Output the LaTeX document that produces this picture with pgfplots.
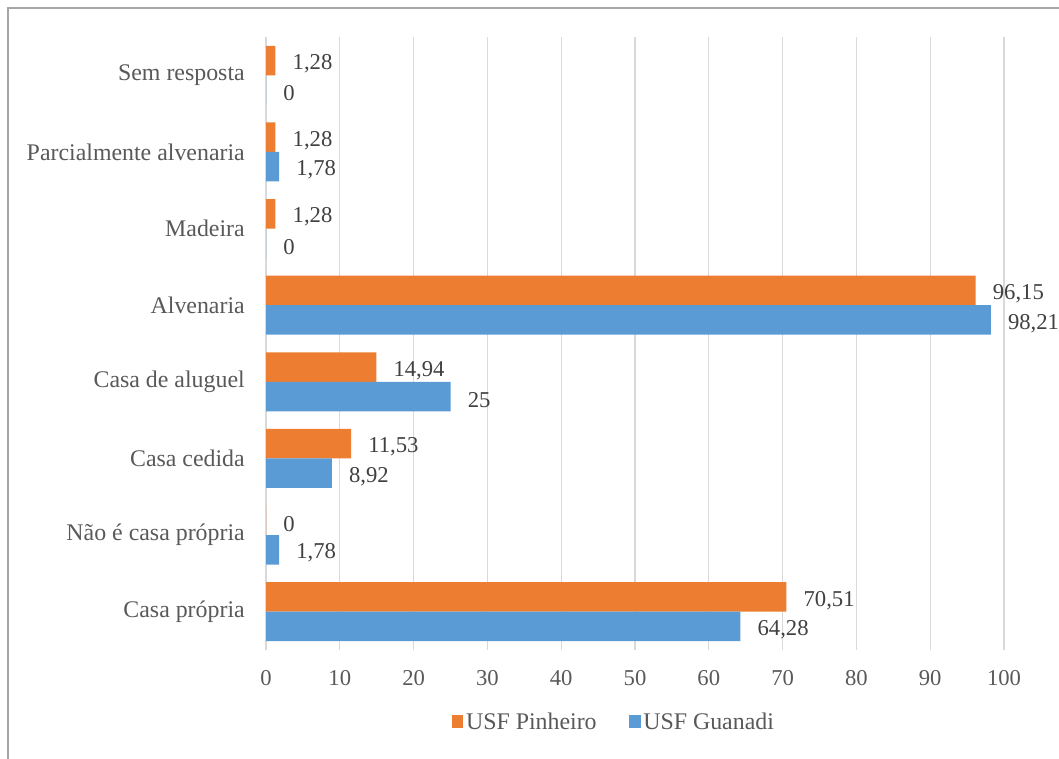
\documentclass[border=0pt]{standalone}
\usepackage{pgfplots}
\pgfplotsset{compat=1.18}
\usepackage{pgfplotstable}
\usepackage{fontspec}
\setmainfont{Liberation Serif}
\definecolor{cOrange}{HTML}{ED7D31}
\definecolor{cBlue}{HTML}{5B9BD5}
\definecolor{cTick}{HTML}{595959}
\definecolor{cLab}{HTML}{404040}
\definecolor{cGrid}{HTML}{D9D9D9}
\definecolor{cFrame}{HTML}{A6A6A6}
\pgfplotstableread{
y P Plab G Glab
0 70.51 70,51 64.28 64,28
1 0 0 1.78 1,78
2 11.53 11,53 8.92 8,92
3 14.94 14,94 25 25
4 96.15 96,15 98.21 98,21
5 1.28 1,28 0 0
6 1.28 1,28 1.78 1,78
7 1.28 1,28 0 0
}\datatable
\begin{document}
\begin{tikzpicture}
\useasboundingbox (0,0) rectangle (794.25pt,-568.5pt);
\draw[cFrame, line width=1.1pt] (6pt,-580pt) -- (6pt,-6pt) -- (800pt,-6pt);
\begin{axis}[
  at={(199.5pt,-487.5pt)}, anchor=south west,
  scale only axis,
  width=553.5pt, height=459.75pt,
  xmin=0, xmax=100, ymin=-0.5, ymax=7.5,
  xtick={0,10,...,100},
  ytick={0,...,7},
  yticklabels={Casa própria, Não é casa própria, Casa cedida, Casa de aluguel, Alvenaria, Madeira, Parcialmente alvenaria, Sem resposta},
  xmajorgrids, ymajorgrids=false,
  grid style={cGrid, line width=1pt},
  axis line style={draw=none},
  major tick length=0pt,
  tick style={draw=none},
  tick label style={font=\fontsize{17}{20}\selectfont, color=cTick},
  xticklabel style={inner sep=0pt, anchor=north, yshift=-15pt},
  yticklabel style={inner sep=0pt, anchor=east, xshift=-15.75pt, font=\fontsize{17.9}{21}\selectfont},
  /pgf/number format/assume math mode=true,
  xbar, bar width=0.385,
  point meta=explicit symbolic,
  nodes near coords,
  every node near coord/.append style={anchor=west, inner sep=0pt, xshift=12.75pt, yshift=-2.5pt, font=\fontsize{17}{20}\selectfont, color=cLab},
  legend style={at={(0.472,-0.1175)}, anchor=center, draw=none, legend columns=2, font=\fontsize{17.9}{21}\selectfont, text=cTick, /tikz/every even column/.append style={column sep=22.5pt}},
  legend image code/.code={\fill[#1] (0pt,-4.5pt) rectangle (8.5pt,5pt);},
]
\addplot[fill=cOrange, draw=none, bar shift=0.1925] table[x=P, y=y, meta=Plab] {\datatable};
\addlegendentry{USF Pinheiro}
\addplot[fill=cBlue, draw=none, bar shift=-0.1925] table[x=G, y=y, meta=Glab] {\datatable};
\addlegendentry{USF Guanadi}
\end{axis}
\end{tikzpicture}
\end{document}
